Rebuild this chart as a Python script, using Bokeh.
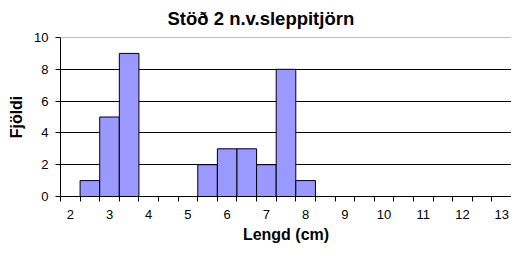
from bokeh.plotting import figure
from bokeh.models import FixedTicker, Span, ColumnDataSource
from bokeh.embed import file_html
from bokeh.resources import INLINE

# Data
lengths = [2.0, 2.5, 3.0, 3.5, 4.0, 4.5, 5.0, 5.5, 6.0, 6.5, 7.0, 7.5,
           8.0, 8.5, 9.0, 9.5, 10.0, 10.5, 11.0, 11.5, 12.0, 12.5, 13.0]
counts = [0, 1, 5, 9, 0, 0, 0, 2, 3, 3, 2, 8,
          1, 0, 0, 0, 0, 0, 0, 0, 0, 0, 0]
x_tick_labels = [2, 3, 4, 5, 6, 7, 8, 9, 10, 11, 12, 13]
y_ticks = [0, 2, 4, 6, 8, 10]
bin_width = 0.5
title_text = "Stöð 2 n.v.sleppitjörn"
x_title = "Lengd (cm)"
y_title = "Fjöldi"

FONT = "Liberation Sans"

x_start = lengths[0] - bin_width / 2
x_end = lengths[-1] + bin_width / 2
y_max = y_ticks[-1]

p = figure(width=511, height=247, output_backend="svg", toolbar_location=None,
           x_range=(x_start, x_end), y_range=(0, y_max),
           min_border_left=60, min_border_right=0, min_border_top=37, min_border_bottom=51)

p.title.text = title_text
p.title.align = "left"
p.title.offset = 107
p.title.vertical_align = "top"
p.title.standoff = 13
p.title.text_font = FONT
p.title.text_font_size = "18.5px"
p.title.text_font_style = "bold"
p.title.text_color = "black"

src = ColumnDataSource(dict(x=lengths, top=counts))
p.vbar(x="x", top="top", width=bin_width, source=src,
       fill_color="#9999FF", line_color="black", line_width=1)

# x axis
minor = [x_start + bin_width * k for k in range(len(lengths) + 1)]
p.xaxis.ticker = FixedTicker(ticks=x_tick_labels, minor_ticks=minor)
p.xaxis.major_tick_out = 0
p.xaxis.major_tick_in = 0
p.xaxis.minor_tick_out = 5
p.xaxis.minor_tick_in = 0
p.xaxis.minor_tick_line_color = "black"
p.xaxis.axis_line_color = "black"
p.xaxis.major_label_standoff = 8
p.xaxis.axis_label = x_title
p.xaxis.axis_label_standoff = 4

# y axis
p.yaxis.ticker = FixedTicker(ticks=y_ticks, minor_ticks=[])
p.yaxis.major_tick_out = 5
p.yaxis.major_tick_in = 0
p.yaxis.major_tick_line_color = "black"
p.yaxis.axis_line_color = "black"
p.yaxis.major_label_standoff = 7
p.yaxis.axis_label = y_title
p.yaxis.axis_label_standoff = 6

for ax in (p.xaxis, p.yaxis):
    ax.major_label_text_font = FONT
    ax.major_label_text_font_size = "13px"
    ax.major_label_text_color = "black"
    ax.axis_label_text_font = FONT
    ax.axis_label_text_font_size = "16px"
    ax.axis_label_text_font_style = "bold"
    ax.axis_label_text_color = "black"

p.xgrid.visible = False
p.ygrid.ticker = FixedTicker(ticks=y_ticks[1:-1])
p.ygrid.grid_line_color = "black"
p.ygrid.grid_line_width = 1

p.add_layout(Span(location=y_max, dimension="width", line_color="#808080", line_width=1))
p.outline_line_color = None

open("out.html", "w").write(file_html(p, INLINE))
